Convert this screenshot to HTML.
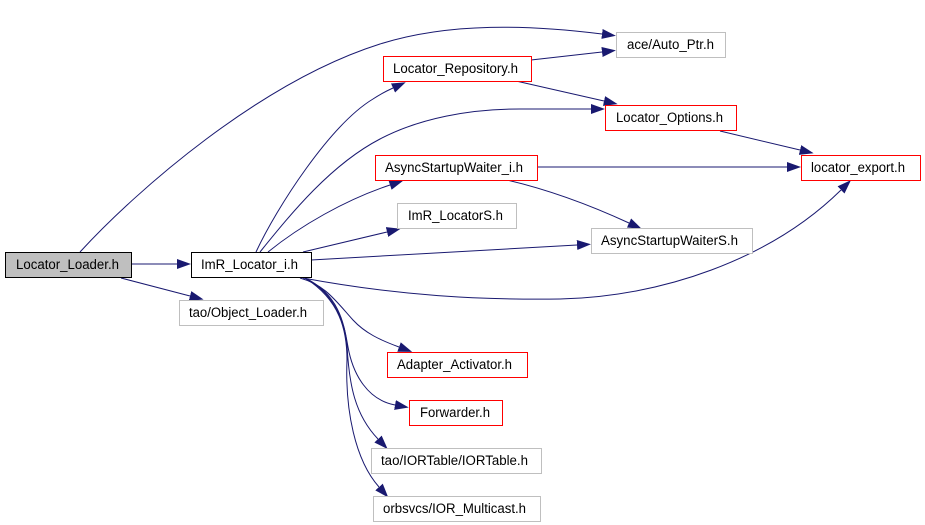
<!DOCTYPE html>
<html>
<head>
<meta charset="utf-8">
<style>
html,body{margin:0;padding:0;background:#fff;width:925px;height:525px;overflow:hidden}
svg{display:block}
text{font-family:"Liberation Sans",sans-serif;font-size:13.4px;fill:#000}
.e{fill:none;stroke:#191970;stroke-width:1;marker-end:url(#a)}
.n{fill:#fff;stroke-width:1}
</style>
</head>
<body>
<svg width="925" height="525" viewBox="0 0 925 525" xmlns="http://www.w3.org/2000/svg">
<defs>
<marker id="a" markerUnits="userSpaceOnUse" markerWidth="15" markerHeight="11" refX="0" refY="5" orient="auto">
<polygon points="0,0 14,5 0,10" fill="#191970"/>
</marker>
</defs>

<path class="e" d="M131,264 L177,264"/>
<path class="e" d="M121,278 L190,296"/>
<path class="e" d="M80,252 C137,190 260,82 380,44 C450,22 530,25 602,34"/>
<path class="e" d="M256,252 C277,207 330,125 373,99 Q382,93 393,88"/>
<path class="e" d="M260,252 C290,215 330,165 380,139 C420,118 470,109 520,109 L591,109"/>
<path class="e" d="M268,252 C300,226 345,200 390,185"/>
<path class="e" d="M303,252 L387,232"/>
<path class="e" d="M311,260 L577,245"/>
<path class="e" d="M303,278 C400,296 480,300 560,299 C660,297 770,260 841,190"/>
<path class="e" d="M531,60 L602,52"/>
<path class="e" d="M516,81 L604,101"/>
<path class="e" d="M537,167 L787,167"/>
<path class="e" d="M507,180 C550,190 590,205 629,223"/>
<path class="e" d="M720,131 L800,150"/>
<path class="e" d="M300,278 C325,285 335,300 353,320 C365,333 380,340 399,347"/>
<path class="e" d="M305,278 C340,295 344,325 348,347 C353,375 368,400 395,405"/>
<path class="e" d="M305,278 C338,295 346,330 347,345 C349,385 355,415 378,439"/>
<path class="e" d="M305,278 C340,300 347,330 347,360 C345,410 355,460 379,487"/>

<rect class="n" x="5.5" y="252.5" width="126" height="25" style="fill:#bfbfbf;stroke:#000"/>
<text x="16" y="269" textLength="103" lengthAdjust="spacingAndGlyphs">Locator_Loader.h</text>

<rect class="n" x="191.5" y="252.5" width="120" height="25" stroke="#000"/>
<text x="201" y="269" textLength="97" lengthAdjust="spacingAndGlyphs">ImR_Locator_i.h</text>

<rect class="n" x="179.5" y="300.5" width="144" height="25" stroke="#bfbfbf"/>
<text x="189" y="317" textLength="118" lengthAdjust="spacingAndGlyphs">tao/Object_Loader.h</text>

<rect class="n" x="616.5" y="32.5" width="109" height="25" stroke="#bfbfbf"/>
<text x="627" y="49" textLength="87" lengthAdjust="spacingAndGlyphs">ace/Auto_Ptr.h</text>

<rect class="n" x="383.5" y="56.5" width="148" height="25" stroke="#ff0000"/>
<text x="393" y="73" textLength="125" lengthAdjust="spacingAndGlyphs">Locator_Repository.h</text>

<rect class="n" x="605.5" y="105.5" width="131" height="25" stroke="#ff0000"/>
<text x="616" y="122" textLength="107" lengthAdjust="spacingAndGlyphs">Locator_Options.h</text>

<rect class="n" x="375.5" y="155.5" width="162" height="25" stroke="#ff0000"/>
<text x="385" y="172" textLength="138" lengthAdjust="spacingAndGlyphs">AsyncStartupWaiter_i.h</text>

<rect class="n" x="397.5" y="203.5" width="119" height="25" stroke="#bfbfbf"/>
<text x="408" y="220" textLength="95" lengthAdjust="spacingAndGlyphs">ImR_LocatorS.h</text>

<rect class="n" x="591.5" y="228.5" width="161" height="25" stroke="#bfbfbf"/>
<text x="601" y="245" textLength="137" lengthAdjust="spacingAndGlyphs">AsyncStartupWaiterS.h</text>

<rect class="n" x="801.5" y="155.5" width="119" height="25" stroke="#ff0000"/>
<text x="811" y="172" textLength="94" lengthAdjust="spacingAndGlyphs">locator_export.h</text>

<rect class="n" x="387.5" y="352.5" width="140" height="25" stroke="#ff0000"/>
<text x="397" y="369" textLength="115" lengthAdjust="spacingAndGlyphs">Adapter_Activator.h</text>

<rect class="n" x="409.5" y="400.5" width="93" height="25" stroke="#ff0000"/>
<text x="420" y="417" textLength="70" lengthAdjust="spacingAndGlyphs">Forwarder.h</text>

<rect class="n" x="371.5" y="448.5" width="170" height="25" stroke="#bfbfbf"/>
<text x="381" y="465" textLength="147" lengthAdjust="spacingAndGlyphs">tao/IORTable/IORTable.h</text>

<rect class="n" x="373.5" y="496.5" width="167" height="25" stroke="#bfbfbf"/>
<text x="383" y="513" textLength="143" lengthAdjust="spacingAndGlyphs">orbsvcs/IOR_Multicast.h</text>
</svg>
</body>
</html>
